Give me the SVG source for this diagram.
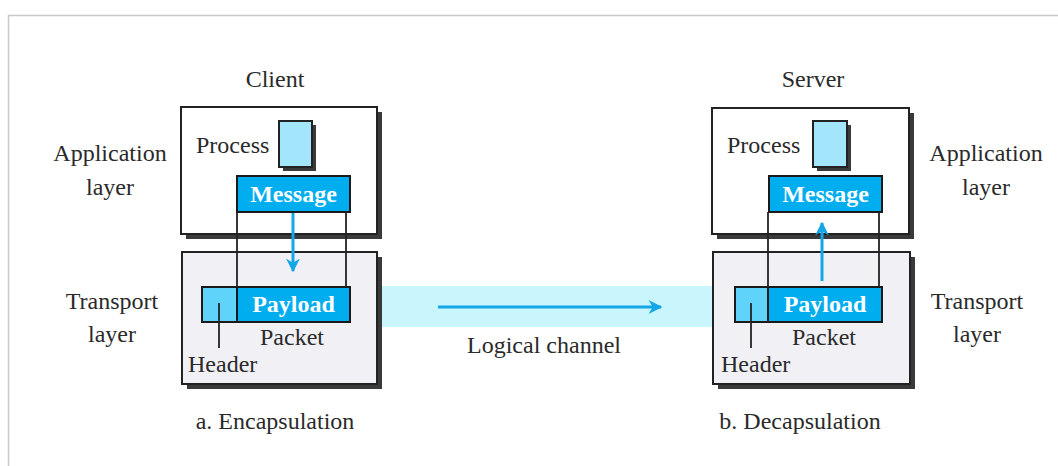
<svg xmlns="http://www.w3.org/2000/svg" width="1058" height="466" viewBox="0 0 1058 466">
  <defs>
    <style>
      .t { font-family: "Liberation Serif", "Times New Roman", serif; font-size: 24px; fill: #2a2a2a; }
      .b { font-family: "Liberation Serif", "Times New Roman", serif; font-size: 24px; font-weight: bold; fill: #ffffff; }
      .shadow { fill: #3a3a3a; }
      .app { fill: #ffffff; stroke: #222222; stroke-width: 2; }
      .trans { fill: #f1f1f5; stroke: #222222; stroke-width: 2; }
      .proc { fill: #a3e6fb; stroke: #222222; stroke-width: 2; }
      .blue { fill: #00adef; stroke: #1a1a1a; stroke-width: 2; }
      .hdr { fill: #5fd3fa; stroke: #1a1a1a; stroke-width: 2; }
      .thin { stroke: #222222; stroke-width: 1.8; fill: none; }
      .flow { stroke: #14a6e6; stroke-width: 3; fill: none; }
    </style>
    <marker id="ah" viewBox="0 0 10 10" refX="9" refY="5" markerWidth="4.6" markerHeight="4.6" orient="auto" markerUnits="strokeWidth">
      <path d="M0,0 L10,5 L0,10 L3,5 Z" fill="#14a6e6"/>
    </marker>
  </defs>

  <g id="frame">
    <line x1="8" y1="15.5" x2="1058" y2="15.5" stroke="#c8c8c8" stroke-width="1.5"/>
    <line x1="8.5" y1="15" x2="8.5" y2="466" stroke="#c8c8c8" stroke-width="1.5"/>
  </g>

  <g id="channel">
    <rect x="377" y="286" width="336" height="41" fill="#c9f6fc"/>
  </g>

  <g id="client-app">
    <rect class="shadow" x="186" y="112" width="196" height="127"/>
    <rect class="app" x="181" y="107" width="196" height="127"/>
    <text class="t" x="196" y="153">Process</text>
    <rect class="shadow" x="283" y="125" width="33" height="46"/>
    <rect class="proc" x="279" y="121" width="33" height="46"/>
    <rect class="blue" x="237" y="176" width="113" height="36"/>
    <text class="b" x="293.5" y="202" text-anchor="middle">Message</text>
  </g>

  <g id="client-transport">
    <rect class="shadow" x="187" y="257" width="195" height="132"/>
    <rect class="trans" x="182" y="252" width="195" height="132"/>
    <rect class="hdr" x="202" y="287" width="35" height="35"/>
    <rect class="blue" x="237" y="287" width="113" height="35"/>
    <text class="b" x="293.5" y="312" text-anchor="middle">Payload</text>
    <line class="thin" x1="219" y1="303" x2="219" y2="348"/>
    <text class="t" x="260" y="345">Packet</text>
    <text class="t" x="188" y="372">Header</text>
  </g>

  <g id="server-app">
    <rect class="shadow" x="717" y="113" width="197" height="126"/>
    <rect class="app" x="712" y="108" width="197" height="126"/>
    <text class="t" x="727" y="153">Process</text>
    <rect class="shadow" x="817" y="125" width="34" height="46"/>
    <rect class="proc" x="813" y="121" width="34" height="46"/>
    <rect class="blue" x="769" y="176" width="113" height="36"/>
    <text class="b" x="825.5" y="202" text-anchor="middle">Message</text>
  </g>

  <g id="server-transport">
    <rect class="shadow" x="718" y="257" width="197" height="132"/>
    <rect class="trans" x="713" y="252" width="197" height="132"/>
    <rect class="hdr" x="735" y="287" width="33" height="35"/>
    <rect class="blue" x="768" y="287" width="114" height="35"/>
    <text class="b" x="825" y="312" text-anchor="middle">Payload</text>
    <line class="thin" x1="751" y1="303" x2="751" y2="348"/>
    <text class="t" x="792" y="345">Packet</text>
    <text class="t" x="721" y="372">Header</text>
  </g>

  <g id="connectors">
    <line class="thin" x1="237" y1="212" x2="237" y2="287"/>
    <line class="thin" x1="346" y1="212" x2="346" y2="287"/>
    <line class="flow" x1="293" y1="213" x2="293" y2="271" marker-end="url(#ah)"/>
    <line class="thin" x1="768" y1="212" x2="768" y2="287"/>
    <line class="thin" x1="879" y1="212" x2="879" y2="287"/>
    <line class="flow" x1="822" y1="281" x2="822" y2="223" marker-end="url(#ah)"/>
    <line class="flow" x1="438" y1="307" x2="661" y2="307" marker-end="url(#ah)"/>
  </g>

  <g id="labels">
    <text class="t" x="275" y="87" text-anchor="middle">Client</text>
    <text class="t" x="813" y="87" text-anchor="middle">Server</text>
    <text class="t" x="110" y="161" text-anchor="middle">Application</text>
    <text class="t" x="110" y="195" text-anchor="middle">layer</text>
    <text class="t" x="986" y="161" text-anchor="middle">Application</text>
    <text class="t" x="986" y="195" text-anchor="middle">layer</text>
    <text class="t" x="112" y="309" text-anchor="middle">Transport</text>
    <text class="t" x="112" y="342" text-anchor="middle">layer</text>
    <text class="t" x="977" y="309" text-anchor="middle">Transport</text>
    <text class="t" x="977" y="342" text-anchor="middle">layer</text>
    <text class="t" x="544" y="353" text-anchor="middle">Logical channel</text>
    <text class="t" x="275" y="429" text-anchor="middle">a. Encapsulation</text>
    <text class="t" x="800" y="429" text-anchor="middle">b. Decapsulation</text>
  </g>
</svg>
